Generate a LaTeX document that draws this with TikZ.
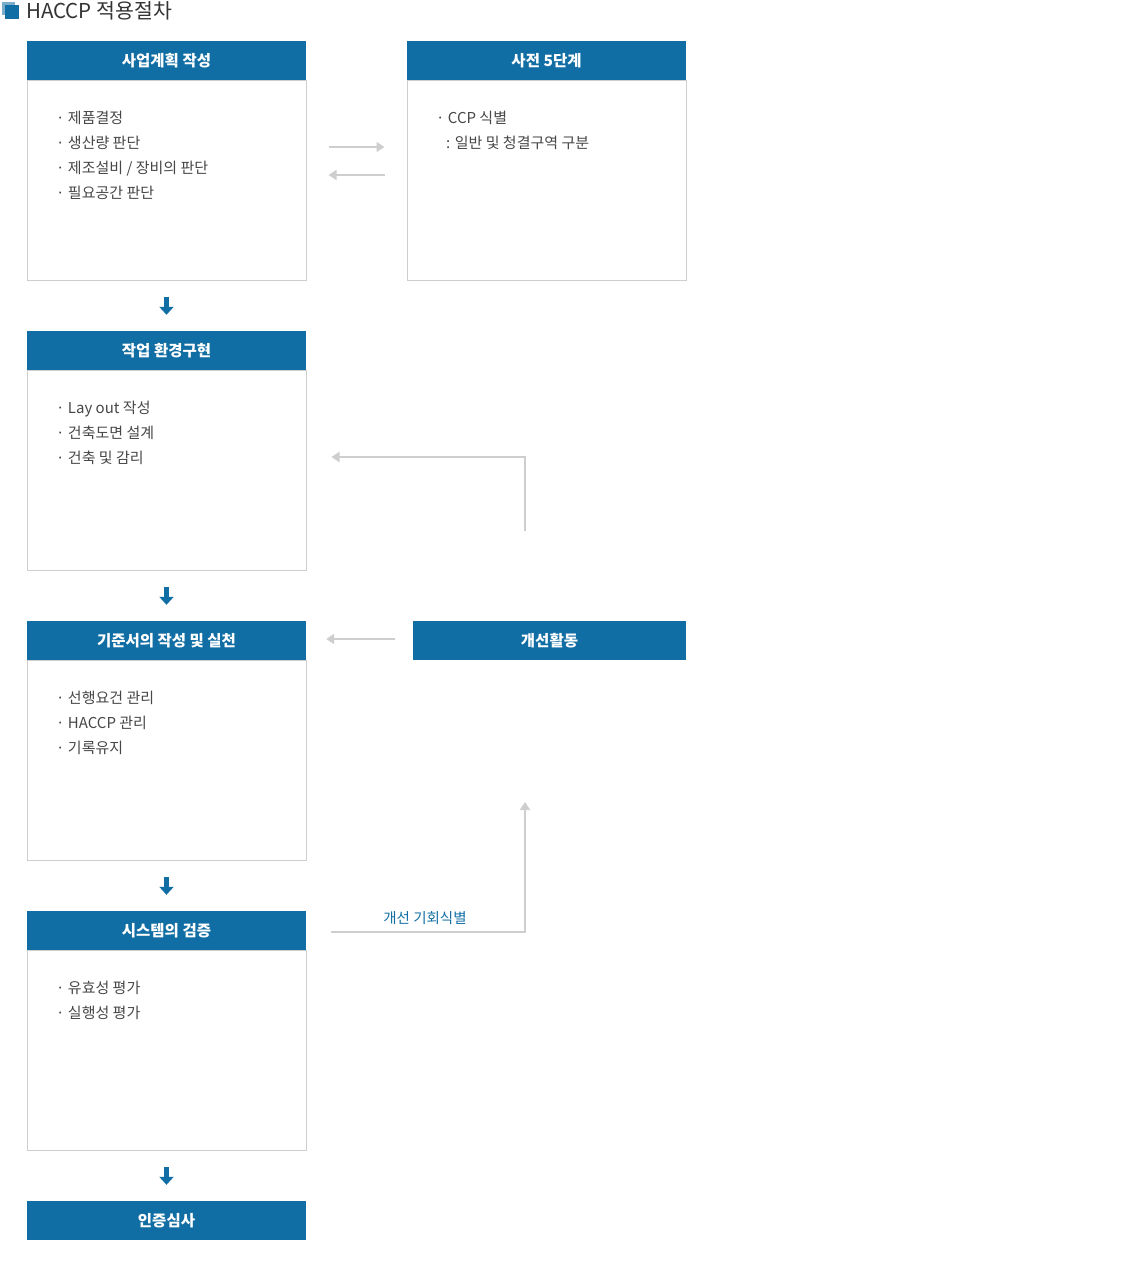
\documentclass[tikz,border=0pt]{standalone}
\usepackage{fontspec}
\setmainfont{Noto Sans CJK KR}
\usepackage{xcolor}
\usetikzlibrary{arrows.meta,positioning}
\definecolor{haccpblue}{RGB}{17,110,164}
\definecolor{haccplight}{RGB}{122,172,204}
\definecolor{linegray}{RGB}{206,206,206}
\definecolor{textgray}{RGB}{70,70,70}
\definecolor{titlegray}{RGB}{51,51,51}

\begin{document}
\begin{tikzpicture}[x=1pt,y=-1pt,
  head/.style={fill=haccpblue,text=white,font=\fontsize{15.5}{16}\selectfont\bfseries,
    minimum width=279pt,minimum height=39pt,inner sep=0pt},
  body/.style={draw=linegray,line width=1pt,minimum width=279pt,minimum height=200pt,inner sep=0pt},
  items/.style={anchor=north west,align=left,text=textgray,font=\fontsize{15}{25}\selectfont,inner sep=0pt},
  down/.style={-{Triangle[width=14pt,length=8pt]},line width=5pt,haccpblue,shorten <=16pt,shorten >=16pt},
  flow/.style={-{Triangle[width=10pt,length=8pt]},line width=2pt,linegray}]
  \useasboundingbox (0,0) rectangle (1120,1263);
  % title
  \fill[haccplight] (2,2) rectangle (15,15);
  \fill[haccpblue] (5,5) rectangle (19,19);
  \node[anchor=west,inner sep=0pt,text=titlegray,font=\fontsize{20.5}{22}\selectfont] (title) at (26,11) {HACCP 적용절차};
  % left column
  \node[head] (plan) at (166.5,60.5) {사업계획 작성};
  \node[body,below=0pt of plan] (planbody) {};
  \node[items] (planitems) at (56,111) {· 제품결정\\· 생산량 판단\\· 제조설비 / 장비의 판단\\· 필요공간 판단};
  \node[head] (work) at (166.5,350.5) {작업 환경구현};
  \node[body,below=0pt of work] (workbody) {};
  \node[items] (workitems) at (56,401) {· Lay out 작성\\· 건축도면 설계\\· 건축 및 감리};
  \node[head] (std) at (166.5,640.5) {기준서의 작성 및 실천};
  \node[body,below=0pt of std] (stdbody) {};
  \node[items] (stditems) at (56,691) {· 선행요건 관리\\· HACCP 관리\\· 기록유지};
  \node[head] (verify) at (166.5,930.5) {시스템의 검증};
  \node[body,below=0pt of verify] (verifybody) {};
  \node[items] (verifyitems) at (56,981) {· 유효성 평가\\· 실행성 평가};
  \node[head] (audit) at (166.5,1220.5) {인증심사};
  % right column
  \node[head] (pre) at (546.5,60.5) {사전 5단계};
  \node[body,below=0pt of pre] (prebody) {};
  \node[items] (preitems) at (436,111) {· CCP 식별\\\hspace*{10pt}: 일반 및 청결구역 구분};
  \node[head,minimum width=273pt] (improve) at (549.5,640.5) {개선활동};
  % down arrows
  \draw[down] (planbody.south) -- (work.north);
  \draw[down] (workbody.south) -- (std.north);
  \draw[down] (stdbody.south) -- (verify.north);
  \draw[down] (verifybody.south) -- (audit.north);
  % side arrows
  \draw[flow,shorten <=22pt,shorten >=22pt] (planbody.east |- 0,147) -- (prebody.west |- 0,147);
  \draw[flow,shorten <=22pt,shorten >=22pt] (prebody.west |- 0,175) -- (planbody.east |- 0,175);
  \coordinate (loopup) at (525,531);
  \draw[flow,shorten >=25pt] (loopup) |- (workbody.east |- 0,457);
  \draw[flow,shorten <=18pt,shorten >=20pt] (improve.west |- 0,639) -- (std.east |- 0,639);
  \coordinate (loopdown) at (525,802);
  \draw[flow,shorten <=25pt] (verify.east |- 0,932) -| (loopdown);
  \node[text=haccpblue,font=\fontsize{14.5}{16}\selectfont,inner sep=0pt] (chance) at (425,918) {개선 기회식별};
\end{tikzpicture}
\end{document}
